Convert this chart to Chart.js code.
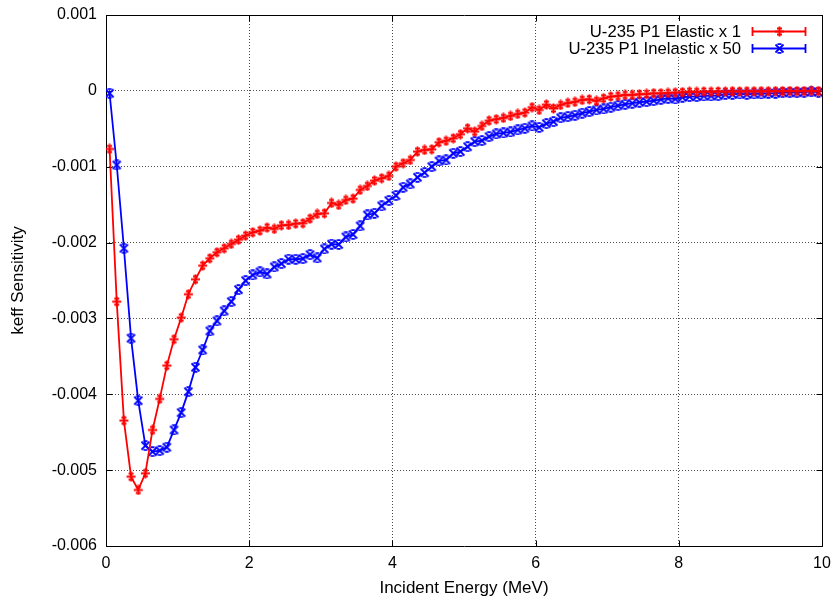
<!DOCTYPE html>
<html><head><meta charset="utf-8">
<script src="https://cdn.jsdelivr.net/npm/chart.js@4.4.1/dist/chart.umd.min.js"></script>
<style>html,body{margin:0;padding:0;background:#fff;overflow:hidden}</style>
</head><body>
<canvas id="c" width="838" height="601"></canvas>
<script>
const energies = [0.05,0.15,0.25,0.35,0.45,0.55,0.65,0.75,0.85,0.95,
1.05,1.15,1.25,1.35,1.45,1.55,1.65,1.75,1.85,1.95,
2.05,2.15,2.25,2.35,2.45,2.55,2.65,2.75,2.85,2.95,
3.05,3.15,3.25,3.35,3.45,3.55,3.65,3.75,3.85,3.95,
4.05,4.15,4.25,4.35,4.45,4.55,4.65,4.75,4.85,4.95,
5.05,5.15,5.25,5.35,5.45,5.55,5.65,5.75,5.85,5.95,
6.05,6.15,6.25,6.35,6.45,6.55,6.65,6.75,6.85,6.95,
7.05,7.15,7.25,7.35,7.45,7.55,7.65,7.75,7.85,7.95,
8.05,8.15,8.25,8.35,8.45,8.55,8.65,8.75,8.85,8.95,
9.05,9.15,9.25,9.35,9.45,9.55,9.65,9.75,9.85,9.95];

const elasticX1 = [-0.000766,-0.002779,-0.004347,-0.005086,-0.005261,-0.005041,-0.00447,-0.004061,-0.003622,-0.003274,
-0.00299,-0.002681,-0.002484,-0.002304,-0.002207,-0.002128,-0.002075,-0.002018,-0.001962,-0.001909,
-0.001864,-0.001843,-0.001803,-0.00182,-0.001772,-0.001768,-0.001751,-0.001745,-0.001685,-0.001623,
-0.001614,-0.001478,-0.001504,-0.001438,-0.001421,-0.001306,-0.001254,-0.001184,-0.001152,-0.001122,
-0.000999,-0.000954,-0.000911,-0.000801,-0.000779,-0.00077,-0.000678,-0.00066,-0.000625,-0.000572,
-0.000493,-0.000538,-0.000463,-0.000393,-0.000374,-0.000357,-0.000331,-0.000305,-0.000287,-0.000216,
-0.000252,-0.000182,-0.000232,-0.000186,-0.00016,-0.000146,-0.00012,-0.000111,-0.000133,-0.000098,
-0.000076,-0.000067,-0.000054,-0.000054,-0.000045,-0.000041,-0.000032,-0.000032,-0.000028,-0.000024,
-0.000018,-0.000012,-0.000015,-0.00001,-0.000012,-0.000008,-0.00001,-0.000006,-0.000008,-0.000005,
-0.000006,-0.000004,-0.000005,-0.000003,-0.000004,-0.000002,-0.000003,-0.000002,-0.000001,-0.000002];

const inelasticX50 = [-0.000032,-0.000977,-0.002075,-0.003261,-0.004084,-0.004677,-0.004756,-0.004743,-0.004698,-0.00447,
-0.004242,-0.003965,-0.003644,-0.003416,-0.003165,-0.003033,-0.002901,-0.002779,-0.002621,-0.002502,
-0.002427,-0.002387,-0.002414,-0.002321,-0.002278,-0.002219,-0.00222,-0.002212,-0.002159,-0.002203,
-0.002084,-0.002021,-0.002025,-0.001926,-0.001893,-0.001781,-0.001636,-0.001614,-0.001517,-0.001447,
-0.001381,-0.001271,-0.001227,-0.001139,-0.001078,-0.000999,-0.000924,-0.000911,-0.000823,-0.000801,
-0.000736,-0.00067,-0.000656,-0.000604,-0.000568,-0.000555,-0.000542,-0.000515,-0.000493,-0.000463,
-0.000482,-0.000432,-0.000406,-0.000355,-0.00034,-0.000322,-0.000295,-0.000274,-0.000252,-0.000239,
-0.000216,-0.000195,-0.000177,-0.000163,-0.00015,-0.000142,-0.000129,-0.000111,-0.000098,-0.000107,
-0.000084,-0.000076,-0.000076,-0.000067,-0.000067,-0.000063,-0.000045,-0.000045,-0.000041,-0.000045,
-0.000041,-0.000041,-0.000032,-0.000032,-0.000024,-0.000024,-0.000024,-0.000018,-0.000011,-0.000018];

const seriesLabels = ['U-235 P1 Elastic x 1', 'U-235 P1 Inelastic x 50'];
const xTicks = [0, 2, 4, 6, 8, 10];
const yTicks = [-0.006, -0.005, -0.004, -0.003, -0.002, -0.001, 0, 0.001];
const xTitle = 'Incident Energy (MeV)';
const yTitle = 'keff Sensitivity';

const RED = '#ff0000', BLUE = '#0000ff';
const FONT = "'Liberation Sans', Arial, Helvetica, sans-serif";

function makeMarker(kind, color) {
  const c = document.createElement('canvas');
  c.width = 11; c.height = 11;
  const g = c.getContext('2d');
  g.strokeStyle = color; g.lineWidth = 1.8; g.lineCap = 'butt';
  g.beginPath();
  if (kind === 'plus') {
    g.moveTo(5.5, 0.5); g.lineTo(5.5, 10.5);
    g.moveTo(1, 5.5); g.lineTo(10, 5.5);
    g.moveTo(3, 2.5); g.lineTo(8, 2.5);
    g.moveTo(3, 8.5); g.lineTo(8, 8.5);
  } else {
    g.moveTo(1.5, 1.5); g.lineTo(9.5, 9.5);
    g.moveTo(9.5, 1.5); g.lineTo(1.5, 9.5);
    g.moveTo(3.5, 1.2); g.lineTo(7.5, 1.2);
    g.moveTo(3.5, 9.8); g.lineTo(7.5, 9.8);
  }
  g.stroke();
  return c;
}
const redMarker = makeMarker('plus', RED);
const blueMarker = makeMarker('x', BLUE);

const toPts = arr => energies.map((e, i) => ({x: e, y: arr[i]}));

const gnuplotFrame = {
  id: 'gnuplotFrame',
  beforeDatasetsDraw(chart) {
    const {ctx, chartArea: a, scales} = chart;
    ctx.save();
    ctx.strokeStyle = '#000';
    ctx.lineWidth = 1;
    ctx.beginPath();
    const L = Math.round(a.left) + 0.5, R = Math.round(a.right) + 0.5;
    const T = Math.round(a.top) + 0.5, B = Math.round(a.bottom) + 0.5;
    ctx.moveTo(L, T); ctx.lineTo(R, T); ctx.lineTo(R, B); ctx.lineTo(L, B); ctx.closePath();
    const tl = 6;
    xTicks.forEach(v => {
      const x = Math.round(scales.x.getPixelForValue(v)) + 0.5;
      ctx.moveTo(x, B); ctx.lineTo(x, B - tl);
      ctx.moveTo(x, T); ctx.lineTo(x, T + tl);
    });
    yTicks.forEach(v => {
      const y = Math.round(scales.y.getPixelForValue(v)) + 0.5;
      ctx.moveTo(L, y); ctx.lineTo(L + tl, y);
      ctx.moveTo(R, y); ctx.lineTo(R - tl, y);
    });
    ctx.stroke();
    ctx.restore();
  },
  afterDatasetsDraw(chart) {
    const ctx = chart.ctx;
    ctx.save();
    ctx.fillStyle = '#fff';
    ctx.fillRect(556, 21, 258, 35);
    const rows = [31, 48];
    const markers = [redMarker, blueMarker];
    const colors = [RED, BLUE];
    ctx.font = '16.7px ' + FONT;
    ctx.textAlign = 'right';
    ctx.textBaseline = 'middle';
    rows.forEach((y, i) => {
      ctx.fillStyle = '#000';
      ctx.fillText(seriesLabels[i], 741, y + 1);
      ctx.strokeStyle = colors[i];
      ctx.lineWidth = 1.8;
      ctx.beginPath();
      ctx.moveTo(752, y + 0.5); ctx.lineTo(806, y + 0.5);
      ctx.moveTo(752.5, y - 4); ctx.lineTo(752.5, y + 5);
      ctx.moveTo(805.5, y - 4); ctx.lineTo(805.5, y + 5);
      ctx.stroke();
      ctx.drawImage(markers[i], 779 - 5, y - 5);
    });
    ctx.restore();
  }
};

Chart.defaults.font.family = FONT;
Chart.defaults.font.size = 16;
Chart.defaults.color = '#000';

new Chart(document.getElementById('c'), {
  type: 'line',
  data: {
    datasets: [
      {label: seriesLabels[0], data: toPts(elasticX1), borderColor: RED, backgroundColor: RED,
       borderWidth: 1.8, pointStyle: redMarker, pointRadius: 5, tension: 0, fill: false},
      {label: seriesLabels[1], data: toPts(inelasticX50), borderColor: BLUE, backgroundColor: BLUE,
       borderWidth: 1.8, pointStyle: blueMarker, pointRadius: 5, tension: 0, fill: false}
    ]
  },
  options: {
    responsive: false,
    animation: false,
    devicePixelRatio: 1,
    events: [],
    layout: {padding: {top: 15, right: 16, left: 0, bottom: 0}, autoPadding: false},
    plugins: {legend: {display: false}, tooltip: {enabled: false}, title: {display: false}},
    scales: {
      x: {
        type: 'linear', min: 0, max: 10,
        afterBuildTicks: s => { s.ticks = xTicks.map(v => ({value: v})); },
        afterFit: s => { s.height = 55; s.paddingLeft = 0; s.paddingRight = 0; },
        grid: {color: 'rgba(0,0,0,0.7)', lineWidth: 1, drawTicks: false},
        border: {display: false, dash: [1, 2]},
        ticks: {padding: 8, maxRotation: 0, autoSkip: false, callback: v => String(v)},
        title: {display: true, text: xTitle, font: {size: 17}, padding: {top: 0, bottom: 2}}
      },
      y: {
        type: 'linear', min: -0.006, max: 0.001,
        afterBuildTicks: s => { s.ticks = yTicks.map(v => ({value: v})); },
        afterFit: s => { s.width = 106; s.paddingTop = 0; s.paddingBottom = 0; },
        grid: {color: 'rgba(0,0,0,0.7)', lineWidth: 1, drawTicks: false},
        border: {display: false, dash: [1, 2]},
        ticks: {padding: 9, autoSkip: false, callback: v => String(Math.round(v * 1000) / 1000)},
        title: {display: true, text: yTitle, font: {size: 17}, padding: {top: 8, bottom: 0}}
      }
    }
  },
  plugins: [gnuplotFrame]
});
</script>
</body></html>
